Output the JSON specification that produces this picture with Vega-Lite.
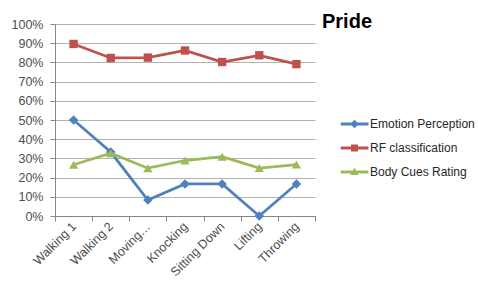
{
  "$schema": "https://vega.github.io/schema/vega-lite/v6.json",
  "width": 260,
  "height": 192,
  "autosize": {"type": "none"},
  "padding": {"left": 55, "top": 24, "right": 163, "bottom": 66},
  "background": "white",
  "config": {
    "view": {"stroke": null},
    "font": "Liberation Sans",
    "axis": {"labelFont": "Liberation Sans", "labelFontSize": 12.5, "labelColor": "#4d4d4d", "domainColor": "#868686", "tickColor": "#868686", "tickSize": 5, "title": null}
  },
  "title": {"text": "Pride", "anchor": "start", "frame": "group", "fontSize": 20, "fontWeight": "bold", "font": "Liberation Sans", "color": "#000000", "baseline": "alphabetic", "dx": 267, "dy": 26, "offset": -4},
  "data": {
    "values": [
      {"action": "Walking 1", "series": "Emotion Perception", "value": 0.5},
      {"action": "Walking 2", "series": "Emotion Perception", "value": 0.333},
      {"action": "Moving…", "series": "Emotion Perception", "value": 0.083},
      {"action": "Knocking", "series": "Emotion Perception", "value": 0.167},
      {"action": "Sitting Down", "series": "Emotion Perception", "value": 0.167},
      {"action": "Lifting", "series": "Emotion Perception", "value": 0.0},
      {"action": "Throwing", "series": "Emotion Perception", "value": 0.167},
      {"action": "Walking 1", "series": "RF classification", "value": 0.896},
      {"action": "Walking 2", "series": "RF classification", "value": 0.823},
      {"action": "Moving…", "series": "RF classification", "value": 0.825},
      {"action": "Knocking", "series": "RF classification", "value": 0.862},
      {"action": "Sitting Down", "series": "RF classification", "value": 0.802},
      {"action": "Lifting", "series": "RF classification", "value": 0.837},
      {"action": "Throwing", "series": "RF classification", "value": 0.791},
      {"action": "Walking 1", "series": "Body Cues Rating", "value": 0.267},
      {"action": "Walking 2", "series": "Body Cues Rating", "value": 0.327},
      {"action": "Moving…", "series": "Body Cues Rating", "value": 0.249},
      {"action": "Knocking", "series": "Body Cues Rating", "value": 0.289},
      {"action": "Sitting Down", "series": "Body Cues Rating", "value": 0.309},
      {"action": "Lifting", "series": "Body Cues Rating", "value": 0.25},
      {"action": "Throwing", "series": "Body Cues Rating", "value": 0.268}
    ]
  },
  "encoding": {
    "x": {
      "field": "action", "type": "nominal", "sort": null,
      "scale": {"type": "band", "paddingInner": 0, "paddingOuter": 0},
      "axis": {"tickBand": "extent", "labelAngle": -45, "labelAlign": "right", "labelBaseline": "middle", "labelPadding": 3, "labelOverlap": false, "grid": false}
    },
    "y": {
      "field": "value", "type": "quantitative",
      "scale": {"domain": [0, 1], "nice": false, "zero": true},
      "axis": {"values": [0, 0.1, 0.2, 0.3, 0.4, 0.5, 0.6, 0.7, 0.8, 0.9, 1], "format": ".0%", "grid": true, "gridColor": "#b3b3b3", "labelPadding": 7}
    }
  },
  "layer": [
    {
      "transform": [{"filter": "datum.series == 'Emotion Perception'"}],
      "mark": {"type": "line", "strokeWidth": 2.75, "color": "#4F81BD",
        "point": {"shape": "diamond", "filled": true, "size": 90, "opacity": 1, "color": "#4F81BD"}},
      "encoding": {}
    },
    {
      "transform": [{"filter": "datum.series == 'RF classification'"}],
      "mark": {"type": "line", "strokeWidth": 2.75, "color": "#C0504D",
        "point": {"shape": "square", "filled": true, "size": 70, "opacity": 1, "color": "#C0504D"}},
      "encoding": {}
    },
    {
      "transform": [{"filter": "datum.series == 'Body Cues Rating'"}],
      "mark": {"type": "line", "strokeWidth": 2.75, "color": "#9BBB59",
        "point": {"shape": "triangle-up", "filled": true, "size": 85, "opacity": 1, "color": "#9BBB59"}},
      "encoding": {}
    },
    {
      "transform": [{"filter": "datum.series == 'none'"}],
      "mark": {"type": "point", "filled": true, "opacity": 1},
      "encoding": {
        "color": {"field": "series", "type": "nominal",
          "scale": {"domain": ["Emotion Perception", "RF classification", "Body Cues Rating"], "range": ["#4F81BD", "#C0504D", "#9BBB59"]},
          "legend": {"orient": "none", "legendX": 285.5, "legendY": 88, "title": null, "padding": 0, "symbolSize": 784, "symbolStrokeWidth": 0, "symbolOpacity": 1, "rowPadding": 0, "clipHeight": 24, "labelOffset": 1.5, "labelFontSize": 12, "labelFont": "Liberation Sans", "labelColor": "#262626"}},
        "shape": {"field": "series", "type": "nominal",
          "scale": {"domain": ["Emotion Perception", "RF classification", "Body Cues Rating"], "range": [
            "M-1,-0.1H1V0.1H-1Z M0,-0.3L0.3,0L0,0.3L-0.3,0Z",
            "M-1,-0.1H1V0.1H-1Z M-0.25,-0.25H0.25V0.25H-0.25Z",
            "M-1,-0.1H1V0.1H-1Z M0,-0.3L0.3,0.22L-0.3,0.22Z"]},
          "legend": {"orient": "none", "legendX": 285.5, "legendY": 88, "title": null}}
      }
    }
  ]
}
